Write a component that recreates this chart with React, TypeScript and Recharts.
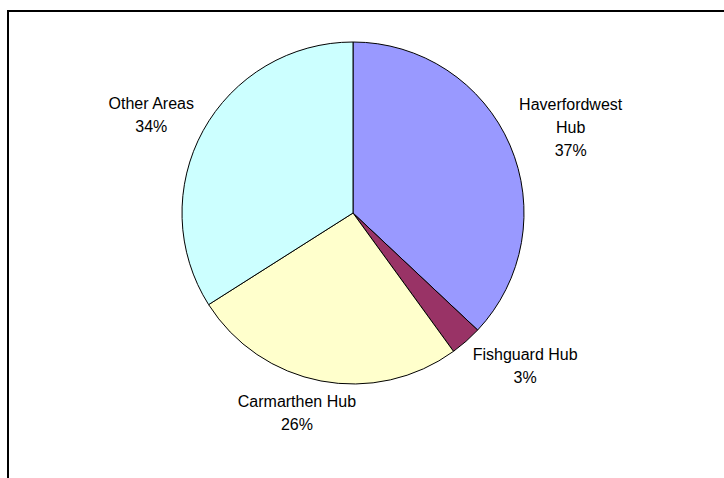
import { PieChart, Pie, Cell } from 'recharts'

// ─── Data ─────────────────────────────────────────────────────────────────────

const AREAS = ['Haverfordwest Hub', 'Fishguard Hub', 'Carmarthen Hub', 'Other Areas']
const SHARES = [37, 3, 26, 34]
const COLORS = ['#9999FF', '#993366', '#FFFFCC', '#CCFFFF']

const data = AREAS.map((name, i) => ({ name, value: SHARES[i] }))

// ─── Label helpers ────────────────────────────────────────────────────────────

const FONT_SIZE = 16
const FONT_FAMILY = '"Liberation Sans", Arial, sans-serif'
const LINE_H = 23
const RAD = Math.PI / 180

// Excel-style wrap: long names break at the last space
function splitName(name: string): string[] {
  if (name.length <= 15) return [name]
  const k = name.lastIndexOf(' ')
  return [name.slice(0, k), name.slice(k + 1)]
}

let ctx: CanvasRenderingContext2D | null = null
function textWidth(s: string): number {
  if (!ctx) ctx = document.createElement('canvas').getContext('2d')
  if (!ctx) return s.length * FONT_SIZE * 0.5
  ctx.font = `${FONT_SIZE}px ${FONT_FAMILY}`
  return ctx.measureText(s).width
}

// eslint-disable-next-line @typescript-eslint/no-explicit-any
function renderLabel(props: any) {
  const { cx, cy, midAngle, outerRadius, name, percent } = props
  const lines = [...splitName(name), `${Math.round(percent * 100)}%`]
  const w = Math.max(...lines.map(textWidth))
  const h = lines.length * LINE_H
  const dx = Math.cos(-midAngle * RAD)
  const dy = Math.sin(-midAngle * RAD)
  const r = outerRadius + 10
  // push the text box outward so its near edge sits just off the rim
  const x = cx + r * dx + Math.sign(dx) * Math.min(1, 2 * Math.abs(dx)) * w / 2
  const y = cy + r * dy + dy * h / 2
  const top = y - h / 2
  return (
    <text
      x={x}
      y={top}
      textAnchor="middle"
      fill="#000"
      fontSize={FONT_SIZE}
      fontFamily={FONT_FAMILY}
    >
      {lines.map((l, i) => (
        <tspan key={i} x={x} y={top + LINE_H * i + LINE_H / 2} dominantBaseline="central">
          {l}
        </tspan>
      ))}
    </text>
  )
}

// ─── Component ────────────────────────────────────────────────────────────────

export default function App() {
  return (
    <div style={{ position: 'absolute', left: 0, top: 0, width: 724, height: 478, overflow: 'hidden', background: '#fff' }}>
      {/* chart area frame: only top and left edges fall inside the picture */}
      <div
        style={{
          position: 'absolute', left: 7, top: 10, width: 740, height: 500,
          borderTop: '2px solid #000', borderLeft: '2px solid #000',
        }}
      />
      <div style={{ position: 'absolute', left: 0, top: 0 }}>
        <PieChart width={724} height={478} margin={{ top: 0, right: 0, bottom: 0, left: 0 }}>
          <Pie
            data={data}
            dataKey="value"
            nameKey="name"
            cx={353}
            cy={213}
            outerRadius={171}
            startAngle={90}
            endAngle={-270}
            stroke="#000"
            strokeWidth={1}
            label={renderLabel}
            labelLine={false}
            isAnimationActive={false}
          >
            {data.map((d, i) => (
              <Cell key={d.name} fill={COLORS[i]} />
            ))}
          </Pie>
        </PieChart>
      </div>
    </div>
  )
}
